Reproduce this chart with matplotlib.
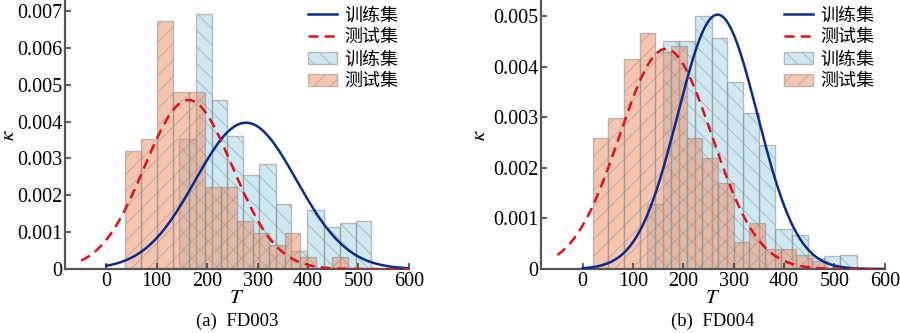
import numpy as np
import matplotlib
matplotlib.use("Agg")
import matplotlib.pyplot as plt

plt.rcParams['font.family'] = ['Liberation Serif', 'Noto Sans CJK SC', 'DejaVu Sans']
plt.rcParams['hatch.linewidth'] = 0.6
plt.rcParams['mathtext.fontset'] = 'stix'

# FD003 histogram bins (density)
a_train_edges = [145, 177, 209, 240, 272, 303, 336, 367, 398, 431, 463, 495, 526]
a_train_heights = [0.00354, 0.00692, 0.00459, 0.00362, 0.00255, 0.00286, 0.00176,
                   0.00050, 0.00159, 0.00115, 0.00124, 0.00131]
a_test_edges = [37.6, 69.2, 100.8, 132.4, 164.0, 195.6, 227.2, 258.8, 290.4, 322.0,
                353.6, 385.2, 416.8, 448.4, 480.0]
a_test_heights = [0.00320, 0.00352, 0.00672, 0.00480, 0.00480, 0.00223, 0.00223, 0.00131,
                  0.00097, 0.00064, 0.00097, 0.00032, 0.0, 0.00032]

# FD004 histogram bins (density)
b_train_edges = [127, 159, 191, 223, 256, 287, 319, 351, 383, 416, 448, 480, 512, 544]
b_train_heights = [0.00129, 0.00450, 0.00450, 0.00500, 0.00457, 0.00369, 0.00309,
                   0.00246, 0.00080, 0.00067, 0.00022, 0.00025, 0.00028]
b_test_edges = [19.8, 50.9, 82.0, 113.1, 144.2, 175.3, 206.4, 237.5, 268.6, 299.7,
                330.8, 361.9, 393.0, 424.1, 455.2, 486.3]
b_test_heights = [0.00260, 0.00299, 0.00415, 0.00467, 0.00429, 0.00442, 0.00260, 0.00220,
                  0.00170, 0.00053, 0.00092, 0.00040, 0.00040, 0.00027, 0.00015]

# fitted normal curves: (mean, std, start of x range)
a_train_fit = (277, 100.5, 0)
a_test_fit = (163, 87.0, -50)
b_train_fit = (268, 79.3, 0)
b_test_fit = (165, 91.7, -50)

panels = [
    dict(train=(a_train_edges, a_train_heights), test=(a_test_edges, a_test_heights),
         fit_train=a_train_fit, fit_test=a_test_fit, ylim=0.00727,
         yticks=[0, 0.001, 0.002, 0.003, 0.004, 0.005, 0.006, 0.007],
         xlim=-82, caption='(a)  FD003', left=0.0722, ylab_x=-0.135),
    dict(train=(b_train_edges, b_train_heights), test=(b_test_edges, b_test_heights),
         fit_train=b_train_fit, fit_test=b_test_fit, ylim=0.0053,
         yticks=[0, 0.001, 0.002, 0.003, 0.004, 0.005],
         xlim=-83, caption='(b)  FD004', left=0.601, ylab_x=-0.148),
]

xticks = [0, 100, 200, 300, 400, 500, 600]
train_color = '#a9d8e8'
test_color = '#ec8c62'
edge = '#8a8a8a'


def normal_pdf(x, mu, sd):
    return np.exp(-0.5 * ((x - mu) / sd) ** 2) / (sd * np.sqrt(2 * np.pi))


fig = plt.figure(figsize=(9, 3.33), dpi=100)

for p in panels:
    ax = fig.add_axes([p['left'], 0.192, 0.382, 0.805])

    for mu_sd, style in [(p['fit_train'], dict(color='#0b2c8c', ls='-', label='训练集')),
                         (p['fit_test'], dict(color='#e3101a', ls=(0, (4, 2.5)), label='测试集'))]:
        mu, sd, x0 = mu_sd
        x = np.linspace(x0, 600, 300)
        ax.plot(x, normal_pdf(x, mu, sd), lw=1.8, zorder=5, **style)

    e, h = p['train']
    ax.bar(e[:-1], h, width=np.diff(e), align='edge', color=train_color, alpha=0.55,
           edgecolor=edge, linewidth=1.0, hatch='\\\\', label='训练集')
    e, h = p['test']
    ax.bar(e[:-1], h, width=np.diff(e), align='edge', color=test_color, alpha=0.5,
           edgecolor=edge, linewidth=1.0, hatch='//', label='测试集')

    ax.set_xlim(p['xlim'], 600)
    ax.set_ylim(0, p['ylim'])
    ax.set_xticks(xticks)
    ax.set_yticks(p['yticks'])
    ax.set_yticklabels(['0'] + ['%.3f' % v for v in p['yticks'][1:]])
    ax.tick_params(direction='in', length=4, width=1.2, color='#444444',
                   labelsize=14.5, pad=2)
    for s in ['top', 'right']:
        ax.spines[s].set_visible(False)
    for s in ['left', 'bottom']:
        ax.spines[s].set_linewidth(1.6)
        ax.spines[s].set_color('#555555')

    ax.set_xlabel('$T$', fontsize=15, labelpad=-1)
    ax.set_ylabel('$\\kappa$', fontsize=15)
    ax.yaxis.set_label_coords(p['ylab_x'], 0.5)

    ax.legend(loc='upper right', bbox_to_anchor=(1.0, 1.02), frameon=False,
              prop={'family': ['Noto Sans CJK SC'], 'size': 13},
              handlelength=1.6, handletextpad=0.4, labelspacing=0.22,
              borderaxespad=0.2)

    fig.text(p['left'] + 0.191, 0.036, p['caption'], ha='center', va='center',
             fontsize=13.5)

fig.savefig('out.png', dpi=100)
